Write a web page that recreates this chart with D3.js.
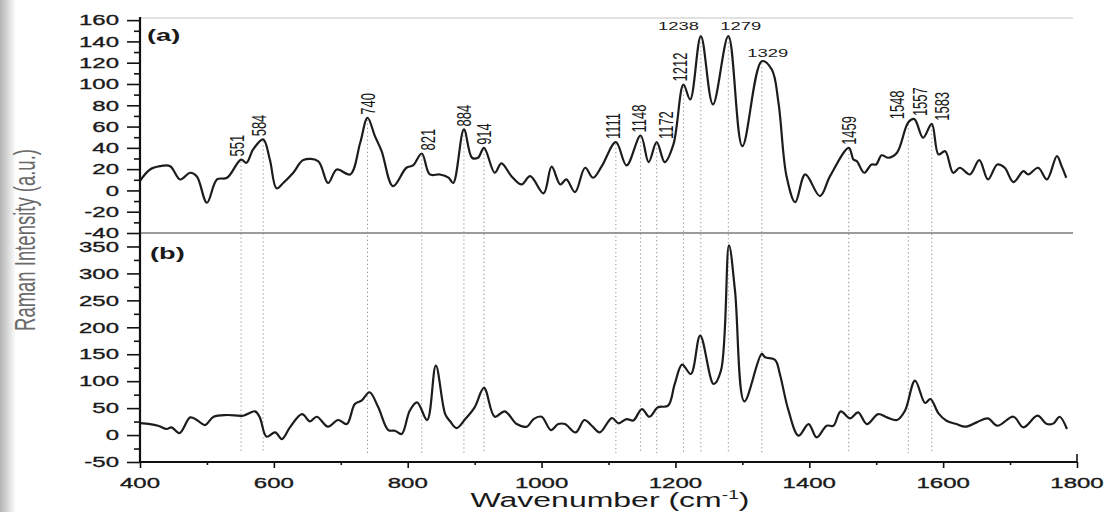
<!DOCTYPE html>
<html>
<head>
<meta charset="utf-8">
<script src="https://cdn.jsdelivr.net/npm/d3@7"></script>
<style>
body { margin: 0; background: #fff; }
svg { display: block; font-family: "Liberation Sans", Arial, sans-serif; }
</style>
</head>
<body>
<svg id="chart" width="1111" height="512"></svg>
<script>
'use strict';

// spectrum (a): wavenumber / intensity
const wnA = [400, 415, 430, 445, 460, 475, 485, 500, 515, 530, 551, 559, 569, 584, 594, 604, 614, 629, 644, 666,
	681, 694, 714, 729, 740, 751, 761, 778, 798, 808, 821, 833, 848, 861, 868, 884, 896, 905, 914, 930,
	940, 955, 970, 983, 1003, 1015, 1028, 1037, 1050, 1065, 1077, 1090, 1111, 1127, 1148, 1160, 1172, 1184, 1197, 1212,
	1222, 1238, 1256, 1279, 1300, 1329, 1344, 1354, 1366, 1379, 1394, 1416, 1431, 1459, 1466, 1471, 1482, 1493, 1500, 1508,
	1518, 1531, 1548, 1557, 1570, 1583, 1593, 1603, 1615, 1625, 1640, 1654, 1667, 1681, 1692, 1705, 1720, 1727, 1742, 1755,
	1770, 1777, 1784];
const valA = [9, 19.7, 22.8, 22.8, 10.3, 16.6, 13, -11.6, 10.3, 11.9, 29, 26, 38.5, 48, 29, 2, 7, 16.6, 28.5, 27.5,
	7, 19.7, 15, 44.8, 68.3, 51, 37, 4, 21.3, 23.5, 34.7, 15, 15, 12, 7, 57.3, 30.7, 30.7, 40, 16.6,
	25.4, 13.4, 5.6, 13.4, -2.8, 22.3, 5.6, 10.3, -1.6, 21.3, 11.9, 22.8, 45.4, 23.5, 51.6, 26.6, 45.4, 26.6, 43.2, 99.5,
	85.4, 145, 80.8, 145, 41.6, 121.4, 113.6, 82.3, 13.4, -11, 15, -5.3, 13.4, 40, 29, 27.5, 16.6, 24.4, 24.4, 33,
	30.7, 35.4, 64, 67, 49.5, 62.6, 33.8, 36.9, 16.6, 21.3, 15, 28.5, 10.3, 24.4, 21.3, 7.8, 18.1, 15, 21.3, 10.3,
	32.2, 22.8, 11.9];

// spectrum (b)
const wnB = [400, 415, 427, 440, 447, 459, 475, 485, 497, 510, 530, 554, 572, 579, 589, 602, 612, 624, 642, 654,
	664, 681, 696, 709, 721, 731, 743, 756, 771, 781, 791, 803, 814, 829, 842, 856, 863, 873, 886, 900,
	914, 930, 945, 963, 978, 988, 1000, 1014, 1025, 1035, 1051, 1064, 1075, 1087, 1105, 1115, 1127, 1137, 1150, 1161,
	1174, 1189, 1199, 1210, 1223, 1237, 1257, 1268, 1280, 1289, 1303, 1329, 1334, 1349, 1356, 1369, 1384, 1399, 1411, 1426,
	1436, 1447, 1461, 1473, 1486, 1503, 1516, 1531, 1543, 1558, 1573, 1581, 1593, 1605, 1620, 1633, 1650, 1667, 1681, 1705,
	1720, 1741, 1755, 1765, 1774, 1785];
const valB = [22, 20.4, 17.3, 11.2, 14.3, 3.7, 32.8, 27.9, 18.6, 34, 37.2, 35.9, 44, 32.8, -3, 5, -7.4, 14.3, 39, 25.5,
	34, 15.5, 27.9, 20.4, 57.6, 63.8, 79.4, 51.5, 9.3, 8, 1.9, 45.2, 60.8, 27.9, 128.8, 39, 26, 13, 29.7, 51.5,
	87.4, 34, 44, 20.4, 15.5, 29.7, 34, 9.3, 20.4, 20.4, 5, 27.9, 17.3, 5, 31.6, 21.7, 29.7, 27, 48.3, 34,
	51.5, 54.5, 94.8, 130.7, 113.4, 184.6, 94.8, 119.5, 352, 268, 62.6, 150.6, 144.4, 139.4, 113.4, 45.2, -1.2, 20.4, -4.4, 17.3,
	17.3, 44, 31, 42.1, 20.4, 39, 32.8, 27.9, 45.2, 101, 59.5, 66.9, 40.3, 26.6, 20.4, 15.5, 23.6, 31, 17.3, 34,
	14.3, 35.9, 20.4, 21.7, 34, 11.2];

const peakLabels = [551, 584, 740, 821, 884, 914, 1111, 1148, 1172, 1212, 1238, 1279, 1329, 1459, 1548, 1557, 1583];
const flatLabels = [1238, 1279, 1329];
const noLineLabels = [1557];

const yTicksA = [-40, -20, 0, 20, 40, 60, 80, 100, 120, 140, 160];
const yTicksB = [-50, 0, 50, 100, 150, 200, 250, 300, 350];
const xTicks = [400, 600, 800, 1000, 1200, 1400, 1600, 1800];
const xMinor = [500, 700, 900, 1100, 1300, 1500, 1700];

const SX = 1.6; // the scan is stretched sideways, text too

let svg = d3.select("#chart"),
	left = 140, right = 1077, topA = 18, midY = 233, bottom = 462;

let x = d3.scaleLinear().domain([400, 1800]).range([left, right]);
let yA = d3.scaleLinear().domain([-40, 162]).range([midY, topA]);
let yB = d3.scaleLinear().domain([-50, 375]).range([bottom, midY]);

// scanned page shading on the left edge
let grad = svg.append("defs").append("linearGradient").attr("id", "edge");
grad.append("stop").attr("offset", "0%").attr("stop-color", "#b4b4b4");
grad.append("stop").attr("offset", "100%").attr("stop-color", "#fff");
svg.append("rect").attr("x", 0).attr("y", 0).attr("width", 16).attr("height", 512).attr("fill", "url(#edge)");

function valueAt(wns, vals, w) {
	let i = d3.bisectLeft(wns, w);
	if (wns[i] === w) return vals[i];
	let t = (w - wns[i - 1]) / (wns[i] - wns[i - 1]);
	return vals[i - 1] + t * (vals[i] - vals[i - 1]);
}

function stretchedText(px, py, str, size, rot) {
	let g = svg.append("g")
		.attr("transform", "translate(" + px + "," + py + ") scale(" + SX + ",1)" + (rot ? " rotate(-90)" : ""));
	return g.append("text")
		.attr("font-size", size)
		.attr("fill", "#1a1a1a")
		.text(str);
}

// frame lines
svg.append("line").attr("x1", left).attr("x2", right - 4).attr("y1", topA).attr("y2", topA)
	.attr("stroke", "#c4c4c4").attr("stroke-width", 1.2);
svg.append("line").attr("x1", left).attr("x2", right - 4).attr("y1", midY).attr("y2", midY)
	.attr("stroke", "#7a7a7a").attr("stroke-width", 1.3);

// dotted guide lines from peaks in (a) down through (b)
svg.append("g").selectAll("line")
	.data(peakLabels.filter(d => noLineLabels.indexOf(d) < 0))
	.enter().append("line")
	.attr("x1", d => x(d)).attr("x2", d => x(d))
	.attr("y1", d => yA(valueAt(wnA, valA, d)) + 2)
	.attr("y2", bottom - 9)
	.attr("stroke", "#8a8a8a")
	.attr("stroke-width", 1)
	.attr("stroke-dasharray", "1.2,2.8");

// spectra
let lineA = d3.line().x((d, i) => x(wnA[i])).y(d => yA(d)).curve(d3.curveCatmullRom.alpha(0.5));
let lineB = d3.line().x((d, i) => x(wnB[i])).y(d => yB(d)).curve(d3.curveCatmullRom.alpha(0.5));

svg.append("path").attr("d", lineA(valA))
	.attr("fill", "none").attr("stroke", "#1c1c1c").attr("stroke-width", 2.2).attr("stroke-linejoin", "round");
svg.append("path").attr("d", lineB(valB))
	.attr("fill", "none").attr("stroke", "#1c1c1c").attr("stroke-width", 2.2).attr("stroke-linejoin", "round");

// axes: tick marks from d3, labels drawn stretched like the scan
function styleAxis(g) {
	g.select(".domain").remove();
	g.selectAll("line").attr("stroke", "#111").attr("stroke-width", 1.6);
}

function leftTicks(scale, major, minor) {
	styleAxis(svg.append("g").attr("transform", "translate(" + left + ",0)")
		.call(d3.axisLeft(scale).tickValues(major).tickSize(13).tickFormat("").tickSizeOuter(0)));
	styleAxis(svg.append("g").attr("transform", "translate(" + left + ",0)")
		.call(d3.axisLeft(scale).tickValues(minor).tickSize(6).tickFormat("").tickSizeOuter(0)));
	major.forEach(function (v) {
		stretchedText(119, scale(v), v, 15, false)
			.attr("text-anchor", "end").attr("dy", "0.35em")
			.attr("stroke", "#1a1a1a").attr("stroke-width", 0.35);
	});
}
leftTicks(yA, yTicksA, d3.range(-30, 160, 20));
leftTicks(yB, yTicksB, d3.range(-25, 350, 50));

styleAxis(svg.append("g").attr("transform", "translate(0," + bottom + ")")
	.call(d3.axisBottom(x).tickValues(xTicks).tickSize(6).tickFormat("").tickSizeOuter(0)));
styleAxis(svg.append("g").attr("transform", "translate(0," + bottom + ")")
	.call(d3.axisBottom(x).tickValues(xMinor).tickSize(3).tickFormat("").tickSizeOuter(0)));
xTicks.forEach(function (v) {
	stretchedText(x(v), 477, v, 15, false)
		.attr("text-anchor", "middle").attr("dy", "0.71em")
		.attr("stroke", "#1a1a1a").attr("stroke-width", 0.35);
});

svg.append("line").attr("x1", left).attr("x2", left).attr("y1", topA - 1).attr("y2", bottom + 1)
	.attr("stroke", "#111").attr("stroke-width", 2.2);
svg.append("line").attr("x1", left).attr("x2", right).attr("y1", bottom).attr("y2", bottom)
	.attr("stroke", "#111").attr("stroke-width", 2.2);
svg.append("line").attr("x1", right).attr("x2", right).attr("y1", bottom - 8).attr("y2", bottom + 1)
	.attr("stroke", "#111").attr("stroke-width", 1.6);

// panel tags
stretchedText(147, 41, "(a)", 17, false).attr("font-weight", "bold");
stretchedText(150, 259, "(b)", 17, false).attr("font-weight", "bold");

// peak labels, a few nudged sideways where they crowd
const nudge = { 551: -4, 584: -4, 821: 6, 1111: -3, 1148: -2, 1172: 9, 1212: -4, 1548: -12, 1557: 5, 1583: 10 };
peakLabels.forEach(function (wn) {
	let py = yA(valueAt(wnA, valA, wn));
	if (flatLabels.indexOf(wn) >= 0) {
		let anchor = wn === 1238 ? "end" : (wn === 1279 ? "start" : "middle");
		let dx = wn === 1238 ? -2 : (wn === 1279 ? -8 : 6);
		let dy = wn === 1329 ? -4 : -6;
		stretchedText(x(wn) + dx, py + dy, wn, 11.5, false).attr("text-anchor", anchor);
	} else {
		stretchedText(x(wn) + (nudge[wn] || 0), py - 3, wn, 13, true).attr("text-anchor", "start").attr("dy", "0.35em");
	}
});

// axis titles
let xt = stretchedText(610, 507, "Wavenumber (cm", 20, false).attr("text-anchor", "middle");
xt.append("tspan").attr("font-size", 12).attr("dy", -8).text("-1");
xt.append("tspan").attr("dy", 8).text(")");

stretchedText(35, 240, "Raman Intensity (a.u.)", 18.5, true)
	.attr("text-anchor", "middle").attr("fill", "#6a6a6a");
</script>
</body>
</html>
